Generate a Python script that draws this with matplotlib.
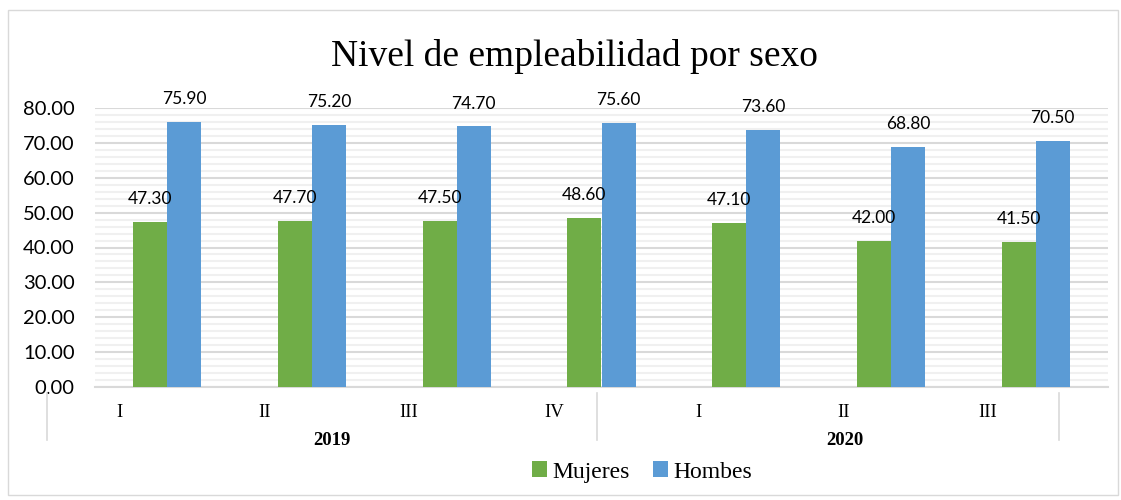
import matplotlib.pyplot as plt
from matplotlib.patches import Rectangle
from matplotlib.ticker import MultipleLocator

plt.rcParams["font.family"] = ["Liberation Serif", "DejaVu Serif"]

# data
quarters = ["I", "II", "III", "IV", "I", "II", "III"]
years = ["2019", "2020"]
mujeres = [47.3, 47.7, 47.5, 48.6, 47.1, 42.0, 41.5]
hombres = [75.9, 75.2, 74.7, 75.6, 73.6, 68.8, 70.5]

green = "#70AD47"
blue = "#5B9BD5"
grid_major = "#d9d9d9"
grid_minor = "#f0f0f0"

fig = plt.figure(figsize=(11.21, 5), dpi=100)
ax = fig.add_axes([95 / 1121, 1 - 387 / 500, (1108 - 95) / 1121, (387 - 108) / 500])

x = list(range(len(quarters)))
w = 0.235
off = 0.118
b1 = ax.bar([i - off for i in x], mujeres, w, color=green, zorder=3, label="Mujeres")
b2 = ax.bar([i + off for i in x], hombres, w, color=blue, zorder=3, label="Hombes")

for bars, vals in ((b1, mujeres), (b2, hombres)):
    for rect, v in zip(bars, vals):
        ax.annotate(f"{v:.2f}", (rect.get_x() + rect.get_width() / 2, v),
                    xytext=(0, 16.5), textcoords="offset points",
                    ha="center", va="center", fontsize=12.5, family="Lato")

ax.set_xlim(-0.5, len(quarters) - 0.5)
ax.set_ylim(0, 80)
ax.yaxis.set_major_locator(MultipleLocator(10))
ax.yaxis.set_minor_locator(MultipleLocator(2))
ax.yaxis.set_major_formatter(lambda v, p: f"{v:.2f}")
ax.grid(axis="y", which="major", color=grid_major, lw=1.5, zorder=0)
ax.grid(axis="y", which="minor", color=grid_minor, lw=1.5, zorder=0)
ax.set_axisbelow(True)
for s in ("top", "right", "left"):
    ax.spines[s].set_visible(False)
ax.spines["bottom"].set_color(grid_major)
ax.spines["bottom"].set_linewidth(1.5)
ax.tick_params(axis="y", which="both", length=0, labelsize=14.5, pad=14.5)
for t in ax.get_yticklabels():
    t.set_family("Lato")
ax.set_xticks([])

# category labels (multi-level)
trans = ax.get_xaxis_transform()
for i, q in enumerate(quarters):
    ax.text(i - 0.33, -0.09, q, transform=trans, ha="center", va="center",
            fontsize=13.5)
for xp, yr in zip([1.14, 4.68], years):
    ax.text(xp, -0.19, yr, transform=trans, ha="center", va="center",
            fontsize=13.5, fontweight="bold")
for xs in [-0.83, 2.97, 6.16]:
    ax.plot([xs, xs], [-0.02, -0.19], transform=trans, color=grid_major,
            lw=1.2, clip_on=False)

fig.text(0.512, 1 - 56 / 500, "Nivel de empleabilidad por sexo", ha="center",
         va="center", fontsize=27)

fig.legend(handles=[b1, b2], loc="center",
           bbox_to_anchor=(642 / 1121, 1 - 472 / 500),
           ncol=2, frameon=False, fontsize=17,
           handlelength=0.65, handleheight=0.65, handletextpad=0.2,
           columnspacing=1.0)

fig.patches.append(Rectangle((8 / 1121, 5 / 500), 1110 / 1121, 485 / 500,
                             transform=fig.transFigure, fill=False,
                             edgecolor=grid_major, lw=1))

fig.savefig("out.png", dpi=100)
